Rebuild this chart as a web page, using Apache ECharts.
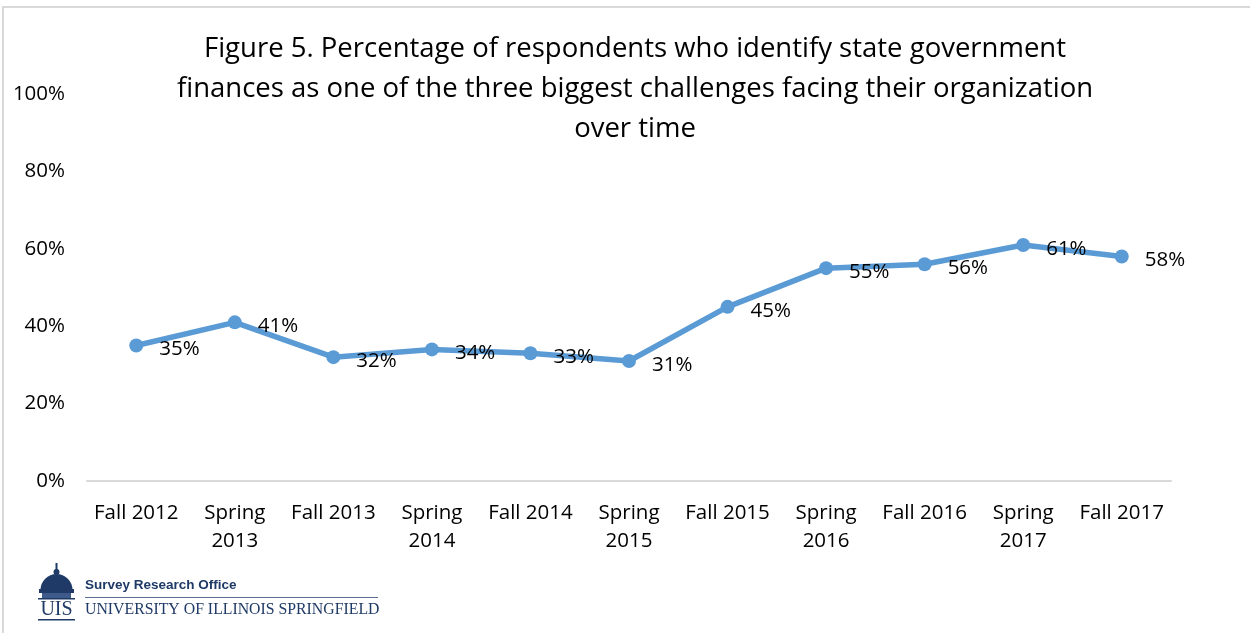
<!DOCTYPE html>
<html>
<head>
<meta charset="utf-8">
<script src="https://cdn.jsdelivr.net/npm/echarts@6/dist/echarts.min.js"></script>
<style>
html,body{margin:0;padding:0;background:#fff;}
#c{width:1250px;height:633px;}
</style>
</head>
<body>
<div id="c"></div>
<script>
const categories = ['Fall 2012','Spring\n2013','Fall 2013','Spring\n2014','Fall 2014','Spring\n2015','Fall 2015','Spring\n2016','Fall 2016','Spring\n2017','Fall 2017'];
const values = [35, 41, 32, 34, 33, 31, 45, 55, 56, 61, 58];
const titleText = 'Figure 5. Percentage of respondents who identify state government\nfinances as one of the three biggest challenges facing their organization\nover time';

const FONT = '"Open Sans", "Liberation Sans", sans-serif';
const NAVY = '#1f3a66';
const chart = echarts.init(document.getElementById('c'));
chart.setOption({
  backgroundColor: '#fff',
  animation: false,
  title: {
    text: titleText,
    left: 630, textAlign: 'center', top: 24,
    textStyle: {fontFamily: FONT, fontSize: 27.5, fontWeight: 'normal', color: '#000', lineHeight: 40}
  },
  grid: {left: 87, right: 79, top: 94, bottom: 152, containLabel: false},
  xAxis: {
    type: 'category', data: categories, boundaryGap: true,
    axisLine: {lineStyle: {color: '#d9d9d9', width: 2}},
    axisTick: {show: false},
    axisLabel: {fontFamily: FONT, fontSize: 20.5, color: '#000', lineHeight: 28, margin: 18, interval: 0}
  },
  yAxis: {
    type: 'value', min: 0, max: 100, interval: 20,
    axisLine: {show: false}, axisTick: {show: false},
    splitLine: {show: false},
    axisLabel: {fontFamily: FONT, fontSize: 20.5, color: '#000', margin: 22, formatter: '{value}%'}
  },
  series: [{
    type: 'line', data: values,
    lineStyle: {color: '#5b9bd5', width: 5.5},
    itemStyle: {color: '#5b9bd5'},
    symbol: 'circle', symbolSize: 14,
    label: {show: true, position: 'right', distance: 16, offset: [0, 4], formatter: '{c}%', fontFamily: FONT, fontSize: 20.5, color: '#000'}
  }],
  graphic: [
    {type: 'polyline', shape: {points: [[3, 640], [3, 7], [1260, 7]]}, style: {stroke: '#d9d9d9', lineWidth: 2, fill: null}},
    // dome logo
    {type: 'rect', shape: {x: 55.5, y: 563, width: 2, height: 8}, style: {fill: NAVY}},
    {type: 'circle', shape: {cx: 56.5, cy: 572, r: 3}, style: {fill: NAVY}},
    {type: 'sector', shape: {cx: 56.5, cy: 590, r: 16, r0: 0, startAngle: Math.PI, endAngle: 2 * Math.PI}, style: {fill: NAVY}},
    {type: 'rect', shape: {x: 39, y: 589, width: 35, height: 4}, style: {fill: NAVY}},
    {type: 'rect', shape: {x: 42, y: 593, width: 29, height: 5}, style: {fill: '#3d5a8a'}},
    {type: 'rect', shape: {x: 38, y: 598, width: 37, height: 1.5}, style: {fill: NAVY}},
    {type: 'text', style: {text: 'UIS', x: 56.5, y: 610, textAlign: 'center', textVerticalAlign: 'middle', font: '20px "Liberation Serif", "DejaVu Serif", serif', fill: NAVY}},
    {type: 'rect', shape: {x: 38, y: 619, width: 37, height: 1.5}, style: {fill: NAVY}},
    {type: 'text', style: {text: 'Survey Research Office', x: 85, y: 585, textVerticalAlign: 'middle', font: 'bold 13.5px "Liberation Sans Narrow", "Liberation Sans", sans-serif', fill: NAVY}},
    {type: 'rect', shape: {x: 85, y: 597, width: 293, height: 1}, style: {fill: '#5a6f8f'}},
    {type: 'text', style: {text: 'UNIVERSITY OF ILLINOIS SPRINGFIELD', x: 85, y: 610, textVerticalAlign: 'middle', font: '15.8px "Liberation Serif", "DejaVu Serif", serif', fill: NAVY}}
  ]
});
</script>
</body>
</html>
